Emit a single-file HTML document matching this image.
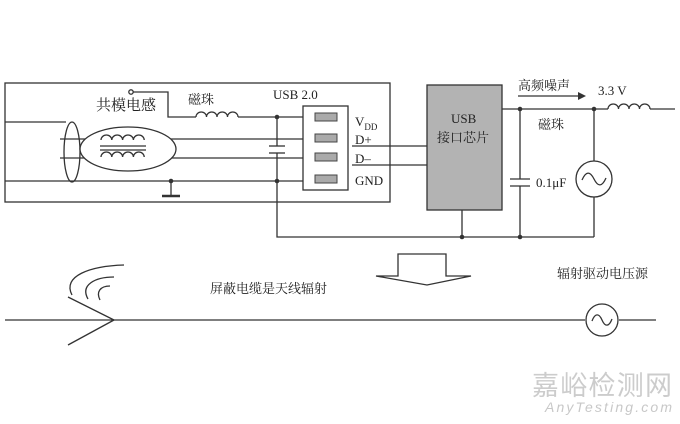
<!DOCTYPE html>
<html><head><meta charset="utf-8"><style>
html,body{margin:0;padding:0;background:#fff;overflow:hidden;}
svg{display:block;}
text{font-family:"Liberation Serif","Noto Serif CJK SC",serif;fill:#222;}
</style></head><body>
<svg width="680" height="424" viewBox="0 0 680 424" xmlns="http://www.w3.org/2000/svg">
<g stroke="#333" stroke-width="1.3" fill="none">
<rect x="5" y="83" width="385" height="119"/>
<line x1="5" y1="122" x2="66" y2="122"/>
<line x1="60" y1="139" x2="305" y2="139"/>
<line x1="60" y1="158" x2="305" y2="158"/>
<line x1="5" y1="181" x2="305" y2="181"/>
<ellipse cx="72" cy="152" rx="8" ry="30"/>
<ellipse cx="128" cy="149" rx="48" ry="22" fill="#fff"/>
<path d="M101,140 a5.4,5 0 0 1 10.8,0 a5.4,5 0 0 1 10.8,0 a5.4,5 0 0 1 10.8,0 a5.4,5 0 0 1 10.8,0"/>
<line x1="100" y1="146" x2="146" y2="146"/>
<line x1="100" y1="150" x2="146" y2="150"/>
<path d="M101,157 a5.4,5 0 0 1 10.8,0 a5.4,5 0 0 1 10.8,0 a5.4,5 0 0 1 10.8,0 a5.4,5 0 0 1 10.8,0"/>
<circle cx="131" cy="92" r="2.2" fill="#fff"/>
<polyline points="133,92 168,92 168,117 196,117"/>
<path d="M196,117 a5.25,5 0 0 1 10.5,0 a5.25,5 0 0 1 10.5,0 a5.25,5 0 0 1 10.5,0 a5.25,5 0 0 1 10.5,0"/>
<line x1="238" y1="117" x2="305" y2="117"/>
<line x1="277" y1="117" x2="277" y2="146"/>
<line x1="269" y1="146" x2="285" y2="146"/>
<line x1="269" y1="153" x2="285" y2="153"/>
<polyline points="277,153 277,237 594,237"/>
<line x1="171" y1="181" x2="171" y2="196"/>
<line x1="162" y1="196" x2="180" y2="196" stroke-width="2.5"/>
<rect x="303" y="106" width="45" height="84" fill="#fff"/>
<line x1="352" y1="146" x2="428" y2="146"/>
<line x1="352" y1="165" x2="428" y2="165"/>
<rect x="427" y="85" width="75" height="125" fill="#b3b3b3"/>
<line x1="462" y1="210" x2="462" y2="237"/>
<line x1="502" y1="109" x2="608" y2="109"/>
<path d="M608,109 a5.25,5 0 0 1 10.5,0 a5.25,5 0 0 1 10.5,0 a5.25,5 0 0 1 10.5,0 a5.25,5 0 0 1 10.5,0"/>
<line x1="650" y1="109" x2="675" y2="109"/>
<line x1="520" y1="109" x2="520" y2="179"/>
<line x1="510" y1="179" x2="530" y2="179"/>
<line x1="510" y1="186" x2="530" y2="186"/>
<line x1="520" y1="186" x2="520" y2="237"/>
<line x1="594" y1="109" x2="594" y2="161"/>
<circle cx="594" cy="179" r="18" fill="#fff"/>
<path d="M582,180 c4,-9 8,-9 12,-1 c4,8 8,8 12,-1"/>
<line x1="594" y1="197" x2="594" y2="237"/>
<line x1="518" y1="96" x2="580" y2="96"/>
<path d="M398,254 L446,254 L446,276 L471,276 L427,285 L376,276 L398,276 Z" fill="#fff"/>
<line x1="5" y1="320" x2="585" y2="320"/>
<line x1="619" y1="320" x2="656" y2="320"/>
<circle cx="602" cy="320" r="16"/>
<path d="M592,321 c3,-8 7,-8 10,-1 c3,7 7,7 10,-1"/>
<line x1="68" y1="297" x2="114" y2="320"/>
<line x1="114" y1="320" x2="68" y2="345"/>
<path d="M72,295 C62,276 90,266 124,265"/>
<path d="M88,299 C80,285 95,277 114,277"/>
<path d="M100,300 C96,292 100,286 110,286"/>
</g>
<polygon points="586,96 578,92 578,100" fill="#333"/>
<g fill="#333">
<circle cx="277" cy="117" r="2.3"/><circle cx="277" cy="181" r="2.3"/><circle cx="171" cy="181" r="2.3"/>
<circle cx="520" cy="109" r="2.3"/><circle cx="594" cy="109" r="2.3"/>
<circle cx="462" cy="237" r="2.3"/><circle cx="520" cy="237" r="2.3"/>
</g>
<g fill="#aaa" stroke="#444" stroke-width="1">
<rect x="315" y="113" width="22" height="8"/><rect x="315" y="134" width="22" height="8"/>
<rect x="315" y="153" width="22" height="8"/><rect x="315" y="175" width="22" height="8"/>
</g>
<g font-size="13">
<text x="96" y="110" font-size="15">共模电感</text>
<text x="188" y="104">磁珠</text>
<text x="273" y="99">USB 2.0</text>
<text x="355" y="126">V<tspan font-size="9" dy="4">DD</tspan></text>
<text x="355" y="144">D+</text>
<text x="355" y="163">D–</text>
<text x="355" y="185">GND</text>
<text x="451" y="123">USB</text>
<text x="437" y="142">接口芯片</text>
<text x="518" y="90">高频噪声</text>
<text x="598" y="95">3.3 V</text>
<text x="538" y="129">磁珠</text>
<text x="536" y="187">0.1μF</text>
<text x="210" y="293">屏蔽电缆是天线辐射</text>
<text x="557" y="278">辐射驱动电压源</text>
</g>
<text x="532" y="395" font-size="27" textLength="140" style="fill:#ccc;font-family:'Noto Sans CJK SC',sans-serif">嘉峪检测网</text>
<text x="545" y="412" font-size="14" textLength="127" style="fill:#c8c8c8;font-family:'Liberation Sans',sans-serif;font-style:italic">AnyTesting.com</text>
</svg>
</body></html>
